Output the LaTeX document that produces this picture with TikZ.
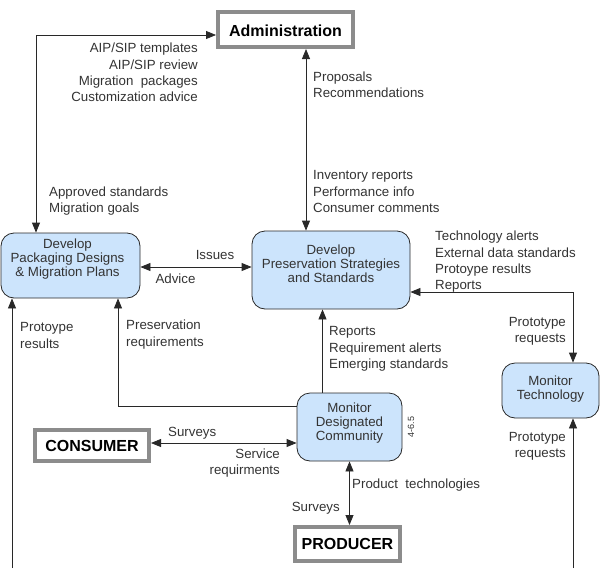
\documentclass[tikz,border=0pt]{standalone}
\usepackage{fontspec}
\setmainfont{Liberation Sans}
\usetikzlibrary{arrows.meta}
\definecolor{procfill}{RGB}{204,228,252}
\definecolor{txt}{RGB}{51,51,51}
\definecolor{ln}{RGB}{40,40,40}
\definecolor{termgray}{RGB}{140,140,140}
\begin{document}
\begin{tikzpicture}[x=1pt,y=-1pt,
  >={Triangle[length=10pt,width=8pt]},
  proc/.style={draw=ln, line width=0.8pt, fill=procfill, rounded corners=13pt, inner sep=0pt},
  boxtxt/.style={font=\fontsize{13.3}{14}\selectfont, text=txt, align=center, inner sep=0pt},
  term/.style={draw=termgray, line width=4pt, fill=white, inner sep=0pt, font=\bfseries\fontsize{16}{18}\selectfont, text=black},
  lab/.style={font=\fontsize{13.3}{16.3}\selectfont, text=txt, inner sep=0pt},
  conn/.style={draw=ln, line width=0.8pt}]
\useasboundingbox (0,0) rectangle (600,568);

% terminators
\node[term, minimum width=135pt, minimum height=35pt, text height=14pt] (admin) at (285.5,29.5) {Administration};
\node[term, minimum width=114pt, minimum height=31pt] (cons) at (92,445.5) {CONSUMER};
\node[term, minimum width=105pt, minimum height=34pt] (prod) at (347.5,544) {PRODUCER};

% processes
\node[proc, minimum width=139pt, minimum height=65pt] (pack) at (70.5,265.5) {};
\node[boxtxt] (packt) at ([xshift=-3pt,yshift=6.5pt]pack.center) {Develop\\Packaging Designs\\\& Migration Plans};
\node[proc, minimum width=158pt, minimum height=78pt] (pres) at (331,270) {};
\node[boxtxt] (prest) at ([yshift=6pt]pres.center) {Develop\\Preservation Strategies\\and Standards};
\node[proc, minimum width=105pt, minimum height=68pt] (mdc) at (349.5,427) {};
\node[boxtxt] (mdct) at ([yshift=4pt]mdc.center) {Monitor\\Designated\\Community};
\node[proc, minimum width=97pt, minimum height=55pt] (montech) at (550.5,390.5) {};
\node[boxtxt] (montecht) at ([yshift=1.5pt]montech.center) {Monitor\\Technology};
\node[font=\fontsize{9}{10}\selectfont, text=txt, rotate=90, inner sep=0pt] (ref) at (411,427) {4-6.5};

% connectors
\draw[conn,<->] ([yshift=-5.5pt]admin.west) -| ([xshift=-34.5pt]pack.north);
\draw[conn,<->] ([xshift=20.5pt]admin.south) -- ([xshift=20.5pt]admin.south |- pres.north);
\draw[conn,<->] ([yshift=-1.5pt]pack.east) -- ([yshift=-1.5pt]pack.east -| pres.west);
\draw[conn,<->] ([yshift=-22pt]pres.east) -| ([xshift=22.5pt]montech.north);
\draw[conn,->] ([xshift=-27pt]mdc.north) -- ([xshift=-27pt]mdc.north |- pres.south);
\draw[conn,->] ([yshift=21pt]mdc.west) -| ([xshift=47.5pt]pack.south);
\draw[conn,<->] ([yshift=2.5pt]cons.east) -- ([yshift=2.5pt]cons.east -| mdc.west);
\draw[conn,<->] (mdc.south) -- (mdc.south |- prod.north);
\coordinate (bl) at (12,568);
\draw[conn,->] (bl) -- (bl |- pack.south);
\coordinate (br) at (573,568);
\draw[conn,->] (br) -- (br |- montech.south);

% labels
\node[lab, align=right, anchor=east] (l1) at (198,72.5) {AIP/SIP templates\\AIP/SIP review\\Migration\ \ packages\\Customization advice};
\node[lab, align=left, anchor=west] (l2) at (49,201) {Approved standards\\Migration goals};
\node[lab, align=left, anchor=west] (l3) at (313,85) {Proposals\\Recommendations};
\node[lab, align=left, anchor=west] (l4) at (313,191.5) {Inventory reports\\Performance info\\Consumer comments};
\node[lab] (l5) at (215,255) {Issues};
\node[lab] (l6) at (175.5,278.5) {Advice};
\node[lab, align=left, anchor=west] (l7) at (435,262) {Technology alerts\\External data standards\\Protoype results\\Reports};
\node[lab, align=right, anchor=east] (l8) at (566,331.5) {Prototype\\requests};
\node[lab, align=left, anchor=west] (l9) at (329,349) {Reports\\Requirement alerts\\Emerging standards};
\node[lab, align=right, anchor=east] (l10) at (566,446.5) {Prototype\\requests};
\node[lab, anchor=west] (l11) at (352,485.5) {Product\ \ technologies};
\node[lab, anchor=east] (l12) at (340,508.5) {Surveys};
\node[lab, align=left, anchor=west] (l13) at (20,335.5) {Protoype\\results};
\node[lab, align=left, anchor=west] (l14) at (126,334.5) {Preservation\\requirements};
\node[lab, anchor=west] (l15) at (168,433) {Surveys};
\node[lab, align=right, anchor=east] (l16) at (280,463) {Service\\requirments};
\end{tikzpicture}
\end{document}
